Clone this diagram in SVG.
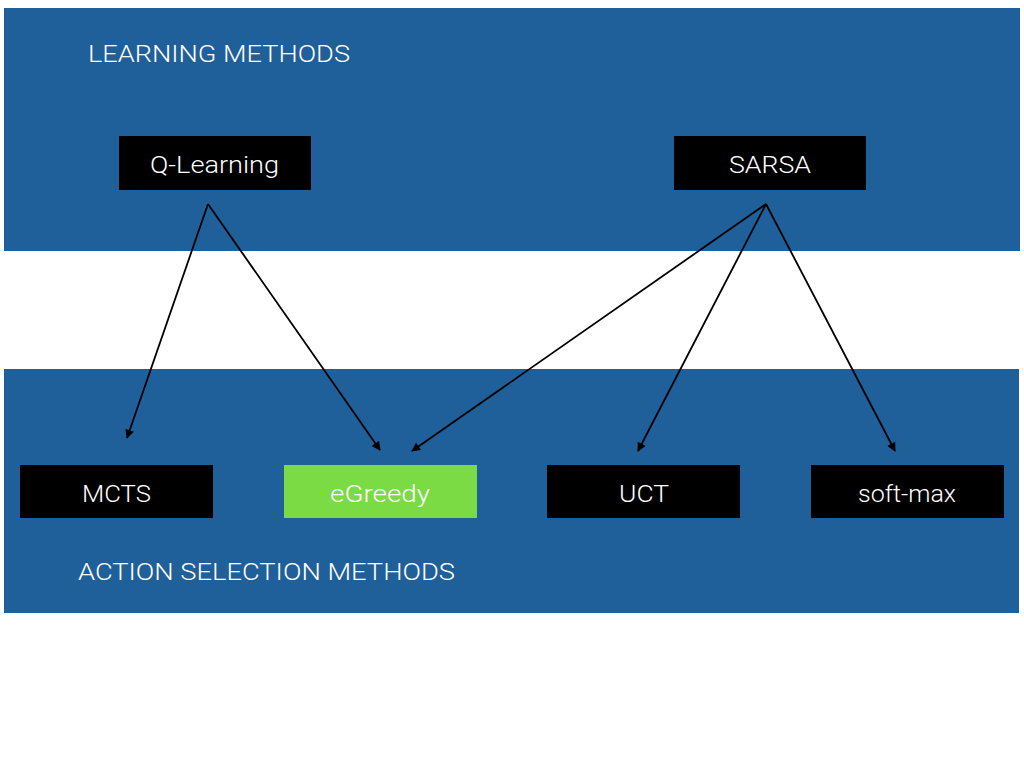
<svg xmlns="http://www.w3.org/2000/svg" width="1024" height="768" viewBox="0 0 1024 768">
<defs>
<style>
.band{fill:#1f5f9a}
.node{fill:#000}
.green{fill:#7bdb45}
.lbl{font-family:Roboto,"Liberation Sans",Arial,sans-serif;font-weight:300;font-size:24px;fill:#fff;text-anchor:middle}
.title{font-family:Roboto,"Liberation Sans",Arial,sans-serif;font-weight:300;font-size:24px;fill:#fff}
.edge{stroke:#000;stroke-width:1.8;fill:none;marker-end:url(#ah)}
</style>
<marker id="ah" viewBox="0 0 10 10" refX="9" refY="5" markerWidth="10" markerHeight="9" markerUnits="userSpaceOnUse" orient="auto"><path d="M0,0 L10,5 L0,10 z" fill="#000"/></marker>
</defs>
<rect width="1024" height="768" fill="#fff"/>
<g id="bands">
<rect class="band" x="4" y="8" width="1016" height="243"/>
<rect class="band" x="4" y="369" width="1015" height="244"/>
<text class="title" x="88" y="62" textLength="262" lengthAdjust="spacingAndGlyphs">LEARNING METHODS</text>
<text class="title" x="78" y="580" textLength="377" lengthAdjust="spacingAndGlyphs">ACTION SELECTION METHODS</text>
</g>
<g id="connectors">
<line class="edge" x1="208" y1="204" x2="127" y2="438"/>
<line class="edge" x1="208" y1="204" x2="380" y2="450"/>
<line class="edge" x1="766" y1="204" x2="412" y2="451"/>
<line class="edge" x1="766" y1="204" x2="638" y2="451"/>
<line class="edge" x1="766" y1="204" x2="895" y2="451"/>
</g>
<g id="n-qlearning"><rect class="node" x="119" y="136" width="192" height="54"/><text class="lbl" x="214.5" y="173" textLength="129" lengthAdjust="spacingAndGlyphs">Q-Learning</text></g>
<g id="n-sarsa"><rect class="node" x="674" y="136" width="192" height="54"/><text class="lbl" x="770" y="173" textLength="82" lengthAdjust="spacingAndGlyphs">SARSA</text></g>
<g id="n-mcts"><rect class="node" x="20" y="465" width="193" height="53"/><text class="lbl" x="116.5" y="502" textLength="69" lengthAdjust="spacingAndGlyphs">MCTS</text></g>
<g id="n-egreedy"><rect class="green" x="284" y="465" width="193" height="53"/><text class="lbl" x="380" y="502" textLength="100" lengthAdjust="spacingAndGlyphs">eGreedy</text></g>
<g id="n-uct"><rect class="node" x="547" y="465" width="193" height="53"/><text class="lbl" x="644" y="502" textLength="50" lengthAdjust="spacingAndGlyphs">UCT</text></g>
<g id="n-softmax"><rect class="node" x="811" y="465" width="193" height="53"/><text class="lbl" x="907" y="502" textLength="98" lengthAdjust="spacingAndGlyphs">soft-max</text></g>
</svg>
